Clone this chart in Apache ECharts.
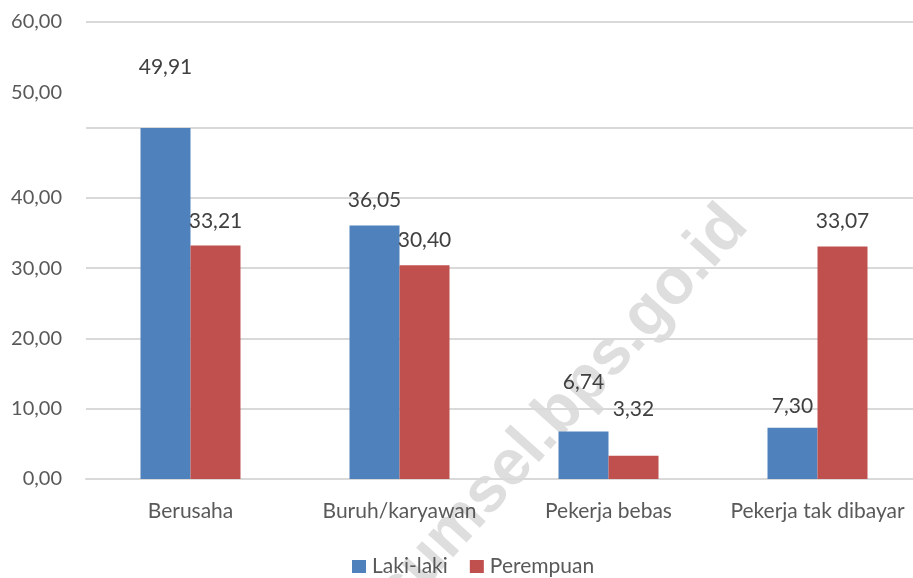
<!DOCTYPE html>
<html>
<head>
<meta charset="utf-8">
<script src="https://cdn.jsdelivr.net/npm/echarts@6/dist/echarts.min.js"></script>
<style>
  html, body { margin: 0; padding: 0; background: #fff; }
  #chart { width: 913px; height: 578px; }
</style>
</head>
<body>
<div id="chart"></div>
<script>
const categories = ['Berusaha', 'Buruh/karyawan', 'Pekerja bebas', 'Pekerja tak dibayar']
const lakiLaki = [49.91, 36.05, 6.74, 7.30]
const perempuan = [33.21, 30.40, 3.32, 33.07]
// gridlines and tick labels as printed on the original (its top is stretched)
const gridValues = [0, 10, 20, 30, 40, 50, 65]
const tickLabels = { 0: '0,00', 10: '10,00', 20: '20,00', 30: '30,00', 40: '40,00', 55: '50,00', 65: '60,00' }

const font = 'Lato, "Open Sans", sans-serif'
const fmt = v => v.toFixed(2).replace('.', ',')

// label lift per bar, the source places a few labels higher
const liftL = [50, 15, 39, 11]
const liftP = [14, 15, 36, 15]

const chart = echarts.init(document.getElementById('chart'))
chart.setOption({
  animation: false,
  textStyle: { fontFamily: font },
  grid: { left: 86, width: 836, top: 22, bottom: 99, outerBoundsMode: 'none', containLabel: false },
  legend: {
    top: 551,
    left: 347,
    itemWidth: 14,
    itemHeight: 13,
    itemGap: 22,
    icon: 'rect',
    textStyle: { fontSize: 21, color: '#595959', fontFamily: font, padding: [0, 0, 0, 1] },
    data: ['Laki-laki', 'Perempuan']
  },
  xAxis: {
    type: 'category',
    data: categories,
    axisLine: { lineStyle: { color: '#d9d9d9', width: 2 } },
    axisTick: { show: false },
    axisLabel: { interval: 0, fontSize: 21, color: '#595959', margin: 22, hideOverlap: false }
  },
  yAxis: {
    type: 'value',
    min: 0,
    max: 65,
    axisLine: { show: false },
    axisTick: { show: false, customValues: gridValues },
    splitLine: { lineStyle: { color: '#d9d9d9', width: 2 } },
    axisLabel: {
      customValues: Object.keys(tickLabels).map(Number),
      formatter: v => tickLabels[v] || '',
      fontSize: 20,
      color: '#595959',
      margin: 24
    }
  },
  series: [
    {
      name: 'Laki-laki',
      type: 'bar',
      barWidth: 50,
      barGap: '0%',
      itemStyle: { color: '#4F81BD' },
      data: lakiLaki.map((v, i) => ({ value: v, label: { distance: liftL[i] } })),
      label: { show: true, position: 'top', fontSize: 21, color: '#404040', formatter: p => fmt(p.value) }
    },
    {
      name: 'Perempuan',
      type: 'bar',
      barWidth: 50,
      itemStyle: { color: '#C0504D' },
      data: perempuan.map((v, i) => ({ value: v, label: { distance: liftP[i] } })),
      label: { show: true, position: 'top', fontSize: 21, color: '#404040', formatter: p => fmt(p.value) }
    }
  ],
  graphic: [{
    type: 'text',
    x: 562,
    y: 410,
    rotation: 48 * Math.PI / 180,
    z: -1,
    silent: true,
    style: {
      text: 'sumsel.bps.go.id',
      font: 'bold 64px "Liberation Sans", Arial, sans-serif',
      fill: '#dedede',
      align: 'center',
      verticalAlign: 'middle'
    }
  }]
})
</script>
</body>
</html>
